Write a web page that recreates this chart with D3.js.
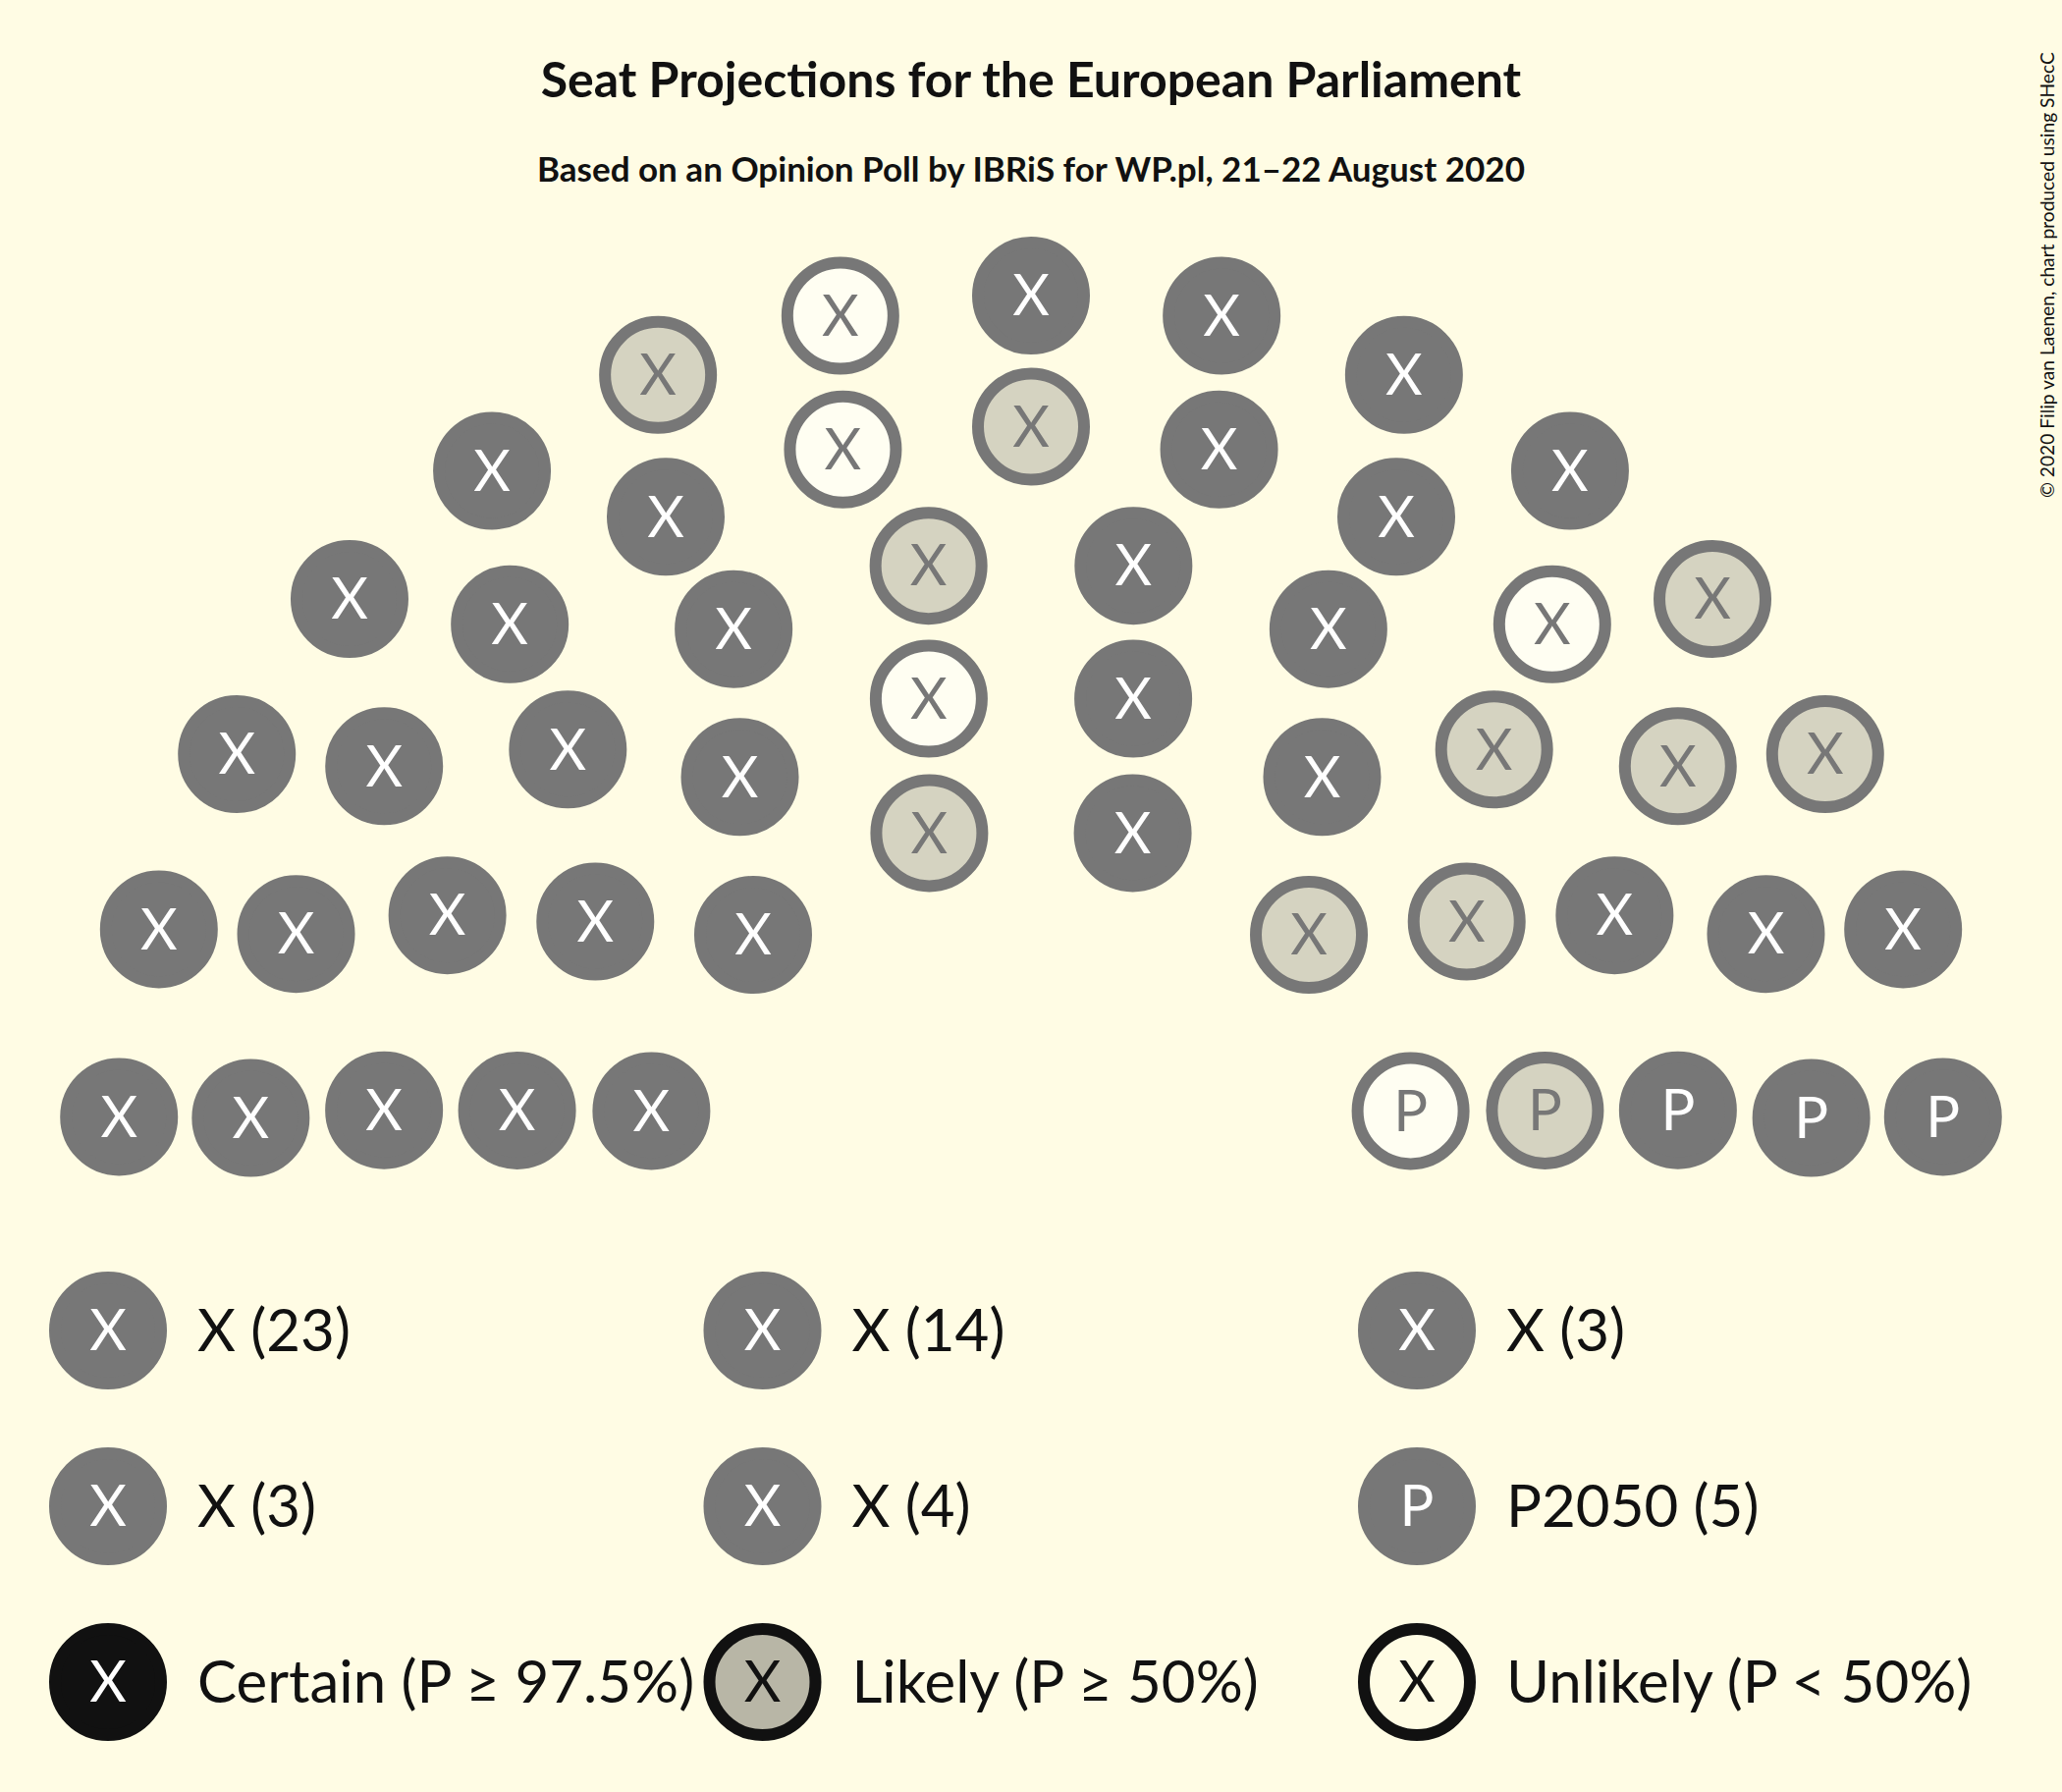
<!DOCTYPE html>
<html>
<head>
<meta charset="utf-8">
<script src="https://cdn.jsdelivr.net/npm/d3@7"></script>
<style>
  html, body { margin: 0; padding: 0; background: #FFFCE4; }
  svg { display: block; }
</style>
</head>
<body>
<script>
// ---------------- data ----------------
const partyNames    = ["X", "X", "X", "X", "X", "P2050"];
const partyLetters  = ["X", "X", "X", "X", "X", "P"];
const partySeats    = [23, 14, 3, 3, 4, 5];
const certainSeats  = [19, 11, 0, 0, 3, 3];
const likelySeats   = [2, 2, 2, 3, 1, 1];
const unlikelySeats = [2, 1, 1, 0, 0, 1];
const statusKeys    = ["certain", "likely", "unlikely"];
const statusLabels  = ["Certain (P \u2265 97.5%)", "Likely (P \u2265 50%)", "Unlikely (P < 50%)"];
const titleText     = "Seat Projections for the European Parliament";
const subtitleText  = "Based on an Opinion Poll by IBRiS for WP.pl, 21\u201322 August 2020";
const creditText    = "\u00A9 2020 Filip van Laenen, chart produced using SHecC";

// ---------------- layout ----------------
const W = 2100, H = 1825;
const BG = "#FFFCE4", GREY = "#777777", INK = "#111111";
const FONT = "Lato, 'Open Sans', sans-serif";

const svg = d3.select("body").append("svg")
  .attr("width", W).attr("height", H)
  .attr("viewBox", `0 0 ${W} ${H}`);
svg.append("rect").attr("width", W).attr("height", H).attr("fill", BG);

// title
svg.append("text").attr("x", W / 2).attr("y", 99)
  .attr("text-anchor", "middle").attr("font-family", FONT)
  .attr("font-weight", 700).attr("font-size", 50).attr("fill", INK)
  .text(titleText);
svg.append("text").attr("x", W / 2).attr("y", 185)
  .attr("text-anchor", "middle").attr("font-family", FONT)
  .attr("font-weight", 700).attr("font-size", 35).attr("fill", INK)
  .text(subtitleText);

// credit (vertical)
svg.append("text")
  .attr("transform", `translate(2092,507) rotate(-90)`)
  .attr("font-family", FONT).attr("font-size", 19.2)
  .attr("fill", INK)
  .text(creditText);

// ---- hemicycle seat layout: rows on concentric arcs, seats proportional to radius
const totalSeats = d3.sum(partySeats);
const innerR = 3, outerR = 7;
const rowRadii = d3.range(outerR, innerR - 1, -1); // 7,6,5,4,3
const radSum = d3.sum(rowRadii);
const quotas = rowRadii.map(r => totalSeats * r / radSum);
const perRow = quotas.map(Math.floor);
let rest = totalSeats - d3.sum(perRow);
d3.range(rowRadii.length)
  .sort((a, b) => (quotas[b] - perRow[b]) - (quotas[a] - perRow[a]))
  .slice(0, rest).forEach(i => perRow[i] += 1);

let seats = [];
rowRadii.forEach((r, ri) => {
  const n = perRow[ri];
  for (let i = 0; i < n; i++) {
    const frac = (i + 0.5) / n;
    seats.push({ r, frac, ang: frac * Math.PI });
  }
});
seats.sort((a, b) => (Math.abs(a.frac - b.frac) > 1e-9 ? a.frac - b.frac : a.r - b.r));

// assign parties and statuses (uncertain seats sit toward the centre of the hemicycle)
let k = 0;
partySeats.forEach((n, p) => {
  const mine = seats.slice(k, k + n);
  const st = [].concat(
    d3.range(certainSeats[p]).map(() => "certain"),
    d3.range(likelySeats[p]).map(() => "likely"),
    d3.range(unlikelySeats[p]).map(() => "unlikely"));
  const meanFrac = d3.mean(mine, d => d.frac);
  const order = meanFrac < 0.5 ? st : st.slice().reverse();
  mine.forEach((s, i) => { s.party = p; s.status = order[i]; });
  k += n;
});

// scales (layout units -> pixels)
const xScale = d3.scaleLinear().domain([-outerR, outerR]).range([116.1, 1983.9]);
const yScale = d3.scaleLinear().domain([0, outerR]).range([1235, 301.1]);

const seatR = 54, seatStroke = 12;
const seatFill = { certain: GREY, likely: "#D5D3C1", unlikely: "#FFFEF2" };
const seatText = { certain: "#FFFFFF", likely: GREY, unlikely: GREY };

const seatG = svg.append("g").selectAll("g").data(seats).join("g")
  .attr("transform", d => `translate(${xScale(-d.r * Math.cos(d.ang))},${yScale(d.r * Math.sin(d.ang))})`);
seatG.append("circle").attr("r", seatR)
  .attr("fill", d => seatFill[d.status])
  .attr("stroke", GREY).attr("stroke-width", seatStroke);
seatG.append("text").attr("text-anchor", "middle").attr("dy", "0.35em")
  .attr("font-family", FONT).attr("font-size", 58)
  .attr("fill", d => seatText[d.status])
  .text(d => partyLetters[d.party]);

// ---- legend
const colX = d3.scaleLinear().domain([0, 2]).range([110, 1443]);
const rowY = d3.scaleLinear().domain([0, 2]).range([1355, 1713]);
const labelOffset = 91;

const partyLegend = partyNames.map((name, i) => ({
  letter: partyLetters[i], label: `${name} (${partySeats[i]})`,
  col: i % 3, row: Math.floor(i / 3),
  fill: GREY, stroke: GREY, textFill: "#FFFFFF"
}));
const statusStyle = {
  certain:  { fill: INK, stroke: INK, textFill: "#FFFFFF" },
  likely:   { fill: "#B8B6A6", stroke: INK, textFill: INK },
  unlikely: { fill: BG, stroke: INK, textFill: INK }
};
const statusLegend = statusKeys.map((s, i) => Object.assign({
  letter: "X", label: statusLabels[i], col: i, row: 2
}, statusStyle[s]));

const legG = svg.append("g").selectAll("g").data(partyLegend.concat(statusLegend)).join("g")
  .attr("transform", d => `translate(${colX(d.col)},${rowY(d.row)})`);
legG.append("circle").attr("r", seatR)
  .attr("fill", d => d.fill).attr("stroke", d => d.stroke).attr("stroke-width", seatStroke);
legG.append("text").attr("text-anchor", "middle").attr("dy", "0.35em")
  .attr("font-family", FONT).attr("font-size", 58).attr("fill", d => d.textFill)
  .text(d => d.letter);
legG.append("text").attr("x", labelOffset).attr("dy", "0.35em")
  .attr("font-family", FONT).attr("font-size", 60).attr("fill", INK)
  .text(d => d.label);
</script>
</body>
</html>
